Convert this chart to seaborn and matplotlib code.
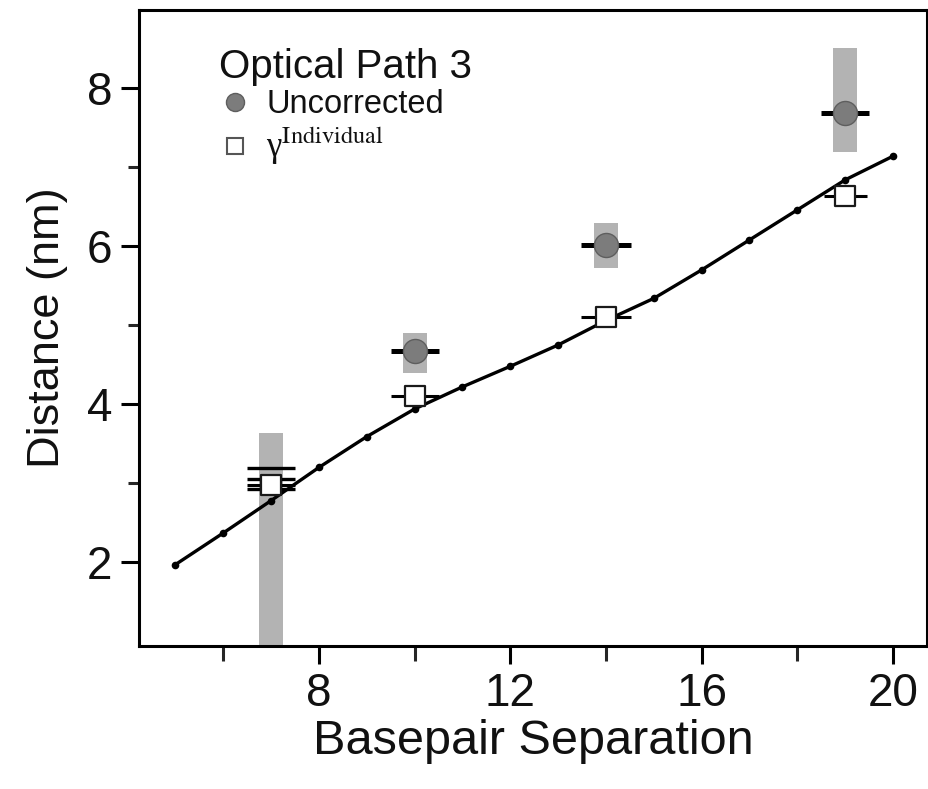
import numpy as np
import pandas as pd
import matplotlib
matplotlib.use("Agg")
import matplotlib.pyplot as plt
import seaborn as sns
from matplotlib.lines import Line2D
from matplotlib.ticker import FixedLocator

# ---------------- data ----------------
model_bp = [5, 6, 7, 8, 9, 10, 11, 12, 13, 14, 15, 16, 17, 18, 19, 20]
model_dist = [1.97, 2.37, 2.78, 3.20, 3.59, 3.94, 4.22, 4.48, 4.75, 5.06,
              5.34, 5.70, 6.08, 6.46, 6.84, 7.14]

band_bp = [7, 10, 14, 19]
band_low = [0.0, 4.39, 5.72, 7.19]
band_high = [3.63, 4.90, 6.29, 8.51]

unc_bp = [10, 14, 19]
unc_dist = [4.68, 6.01, 7.68]
unc_xerr = [0.5, 0.52, 0.5]

ind_bp = [7, 10, 14, 19]
ind_dist = [2.98, 4.11, 5.11, 6.63]
ind_xerr = [0.5, 0.5, 0.52, 0.45]

# additional horizontal error bars at 7 bp
extra_bp = [7, 7, 7]
extra_dist = [3.19, 3.05, 2.93]
extra_xerr = [0.5, 0.5, 0.5]

x_ticks = [8, 12, 16, 20]
x_minor = [6, 10, 14, 18]
y_ticks = [2, 4, 6, 8]
y_minor = [3, 5, 7]

# ---------------- style ----------------
sns.set_theme(style="ticks")
plt.rcParams["font.family"] = ["Liberation Sans", "DejaVu Sans"]
plt.rcParams["mathtext.fontset"] = "stix"
plt.rcParams["text.color"] = "#111111"
plt.rcParams["axes.labelcolor"] = "#111111"

fig = plt.figure(figsize=(9.29, 7.89), dpi=100)
ax = fig.add_axes([139 / 929, 1 - 646 / 789, (927 - 139) / 929, (646 - 10) / 789])

# gray vertical bands
ax.bar(band_bp, np.array(band_high) - np.array(band_low), bottom=band_low,
       width=0.5, color="#b3b3b3", linewidth=0, zorder=1)

# model line
model_df = pd.DataFrame({"bp": model_bp, "dist": model_dist})
sns.lineplot(data=model_df, x="bp", y="dist", ax=ax, color="black", lw=2.4,
             marker="o", markersize=5.5, markeredgewidth=0, zorder=3)

# horizontal error bars
ax.errorbar(extra_bp, extra_dist, xerr=extra_xerr, fmt="none", ecolor="black",
            elinewidth=2.4, capsize=0, zorder=4)
ax.errorbar(unc_bp, unc_dist, xerr=unc_xerr, fmt="none", ecolor="black",
            elinewidth=3.6, capsize=0, zorder=4)
ax.errorbar(ind_bp, ind_dist, xerr=ind_xerr, fmt="none", ecolor="black",
            elinewidth=2.2, capsize=0, zorder=4)

# markers
unc_df = pd.DataFrame({"bp": unc_bp, "dist": unc_dist})
ind_df = pd.DataFrame({"bp": ind_bp, "dist": ind_dist})
sns.scatterplot(data=unc_df, x="bp", y="dist", ax=ax, marker="o", s=300,
                color="#7c7c7c", edgecolor="#5e5e5e", linewidth=1, zorder=5)
sns.scatterplot(data=ind_df, x="bp", y="dist", ax=ax, marker="s", s=190,
                color="white", edgecolor="#1a1a1a", linewidth=1.6, zorder=5)

# axes
ax.set_xlim(4.24, 20.71)
ax.set_ylim(0.94, 8.99)
ax.set_xticks(x_ticks)
ax.set_yticks(y_ticks)
ax.xaxis.set_minor_locator(FixedLocator(x_minor))
ax.yaxis.set_minor_locator(FixedLocator(y_minor))
ax.tick_params(axis="both", which="major", direction="out", width=2.2,
               length=13, labelsize=33, pad=6, colors="black",
               labelcolor="#111111")
ax.tick_params(axis="x", which="minor", direction="out", width=2.2, length=11)
ax.tick_params(axis="y", which="minor", direction="out", width=2.2, length=8)
for sp in ax.spines.values():
    sp.set_visible(True)
    sp.set_linewidth(2.2)
    sp.set_color("black")

ax.set_xlabel("Basepair Separation", fontsize=35, labelpad=2)
ax.set_ylabel("Distance (nm)", fontsize=32.5, labelpad=14)

# legend
handles = [
    Line2D([], [], marker="o", linestyle="none", markersize=13,
           markerfacecolor="#7c7c7c", markeredgecolor="#5e5e5e"),
    Line2D([], [], marker="s", linestyle="none", markersize=12,
           markerfacecolor="white", markeredgecolor="#555555", markeredgewidth=1.5),
]
labels = ["Uncorrected", "γ$^{\\mathrm{Individual}}$"]
leg = ax.legend(handles, labels, title="Optical Path 3", loc="upper left",
                bbox_to_anchor=(0.085, 0.96), frameon=False, fontsize=23.5,
                title_fontsize=29, handletextpad=0.45, borderaxespad=0,
                labelspacing=0.14, handlelength=1.0)
leg._legend_box.align = "left"
leg._legend_box.sep = 2
leg.get_title().set_color("#111111")
leg.get_texts()[1].set_family(["Liberation Serif", "DejaVu Serif"])
leg.get_texts()[1].set_fontsize(25)

fig.savefig("out.png", dpi=100)
